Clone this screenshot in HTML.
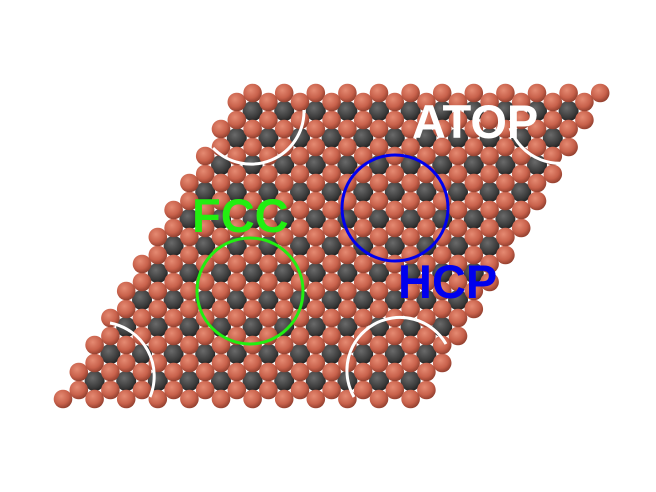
<!DOCTYPE html>
<html><head><meta charset="utf-8"><style>
html,body{margin:0;padding:0;background:#fff;width:656px;height:492px;overflow:hidden}
text{font-family:"Liberation Sans",sans-serif;font-weight:bold}
</style></head><body>
<svg id="s" width="656" height="492" viewBox="0 0 656 492" xmlns="http://www.w3.org/2000/svg">
<defs>
<radialGradient id="cu" cx="0.4" cy="0.35" r="0.7"><stop offset="0" stop-color="#e58a72"/><stop offset="0.6" stop-color="#c8614b"/><stop offset="1" stop-color="#8a3a2a"/></radialGradient>
<radialGradient id="gr" cx="0.4" cy="0.35" r="0.7"><stop offset="0" stop-color="#6a6a6a"/><stop offset="0.7" stop-color="#3a3a3a"/><stop offset="1" stop-color="#1e1e1e"/></radialGradient>
</defs>
<g id="atoms"></g>
<g fill="none" stroke-width="3">
<path d="M213,148 A53,53 0 0 0 304,110" stroke="#fff"/>
<path d="M510,128 A53,53 0 0 0 585,157" stroke="#fff"/>
<path d="M110,323 A54,54 0 0 1 150,397" stroke="#fff"/>
<path d="M354,397 A53,53 0 0 1 446,344" stroke="#fff"/>
<circle cx="250" cy="291" r="53" stroke="#22ee11"/>
<circle cx="395" cy="208" r="53" stroke="#0000ee"/>
</g>
<text x="192" y="232" font-size="47" fill="#22ee11">FCC</text>
<text x="398" y="298" font-size="47" fill="#0000ee">HCP</text>
<text x="412" y="138" font-size="47" fill="#fff">ATOP</text>
</svg>
<script>
const g=document.getElementById('atoms');
const ns='http://www.w3.org/2000/svg';
const N=12, ax=31.6, bx=15.8, by=27, x0=63, y0=399;
const layers=[
 {dx:-(ax+bx)/3,dy:by/3,fill:'url(#gr)',r:10,i0:1,j0:1},
 {dx:(ax+bx)/3,dy:-by/3,fill:'url(#cu)',r:9.3,i0:0,j0:0},
 {dx:0,dy:0,fill:'url(#cu)',r:9.3,i0:0,j0:0}];
layers.forEach(L=>{
  for(let j=N-1;j>=L.j0;j--){
    for(let i=L.i0;i<N;i++){
      const c=document.createElementNS(ns,'circle');
      c.setAttribute('cx',x0+ax*i+bx*j+L.dx);
      c.setAttribute('cy',y0-by*j+L.dy);
      c.setAttribute('r',L.r);
      c.setAttribute('fill',L.fill);
      
      
      g.appendChild(c);
    }
  }
});
</script>
</body></html>
